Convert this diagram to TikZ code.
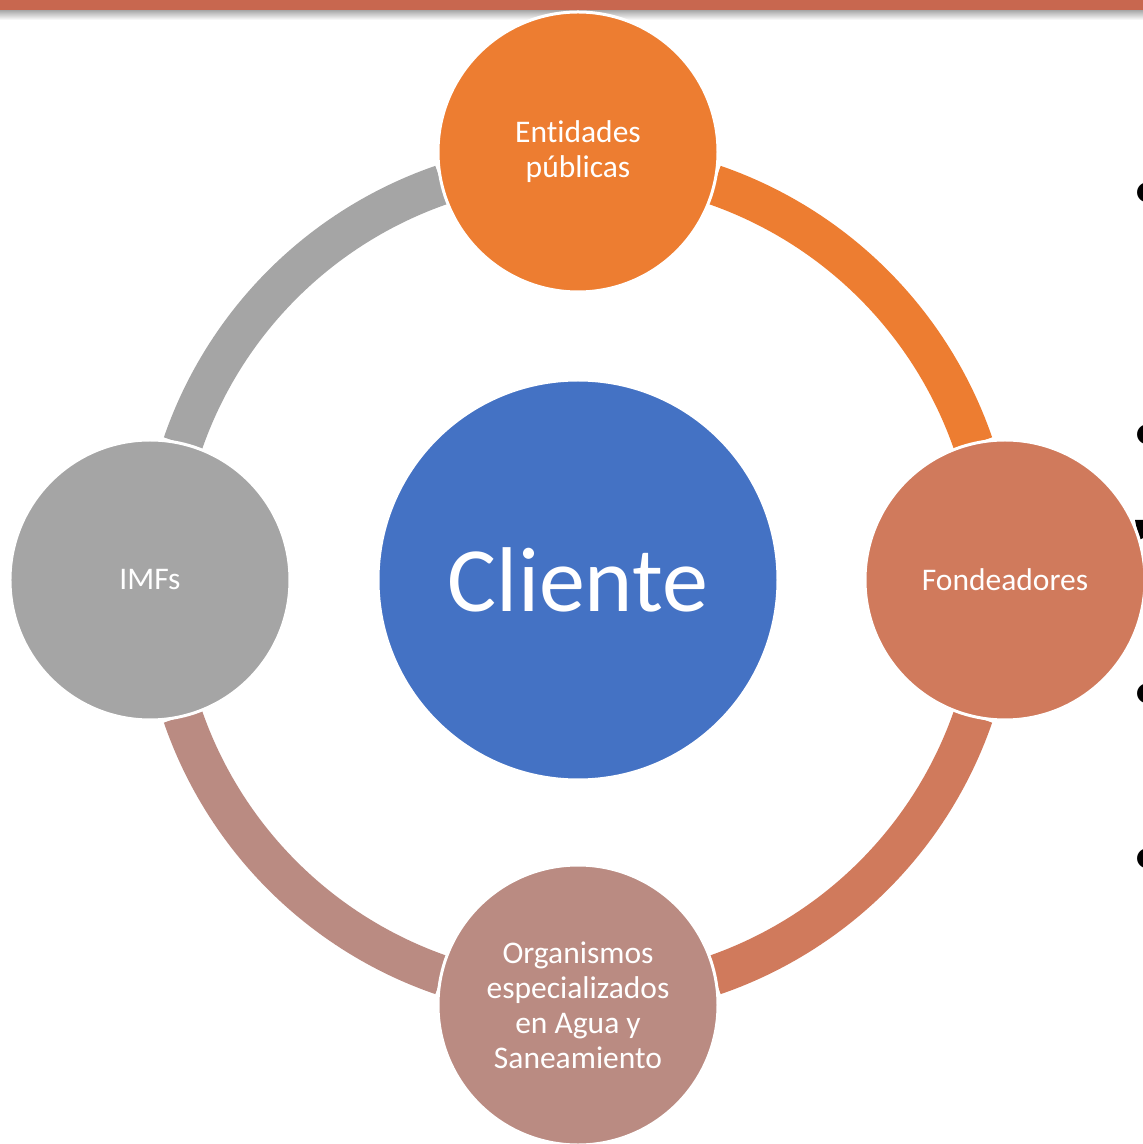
\documentclass[tikz,border=0pt]{standalone}
\usepackage{fontspec}
\setmainfont{Carlito}[Ligatures=NoCommon]
\usepackage{xcolor}
\usetikzlibrary{positioning,calc,backgrounds}

\definecolor{orangeC}{HTML}{ED7D31}
\definecolor{fondC}{HTML}{D07A5C}
\definecolor{organC}{HTML}{BA8B82}
\definecolor{grayC}{HTML}{A5A5A5}
\definecolor{blueC}{HTML}{4472C4}
\definecolor{barC}{HTML}{C8674F}

\begin{document}
\begin{tikzpicture}[x=0.5pt,y=0.5pt,
		actor/.style={circle,draw=white,line width=1.5pt,inner sep=0pt,outer sep=0pt,minimum size=140pt,
			text=white,align=center,font=\fontsize{15.75pt}{17.5pt}\selectfont},
		ringarc/.style={line width=20pt,line cap=butt},
		bullet/.style={anchor=west,inner sep=0pt,font=\fontsize{28pt}{28pt}\selectfont}]
		\useasboundingbox (-578,-564) rectangle (565,580);
		% title bar of the slide
		\shade [top color=black!35,bottom color=white] (-578,570) rectangle (565,560);
		\fill [barC] (-578,580) rectangle (565,570);
		% bullets of the cut off text
		\node[bullet] (b1) at (555,384) {•};
		\node[bullet] (b2) at (555,142) {•};
		\node[bullet] (b3) at (555,-117) {•};
		\node[bullet] (b4) at (555,-282) {•};
		\fill [black] (557,60) -- (565,60) -- (565,42) -- (561,40) -- cycle;
		% nodes
		\node[actor,fill=blueC,minimum size=200pt,font=\fontsize{46pt}{46pt}\selectfont] (cli) at (0,0) {Cliente};
		\node[actor,fill=orangeC] (ent) at (0,428) {Entidades\\públicas};
		\node[actor,fill=fondC] (fon) at (427,0) {Fondeadores};
		\node[actor,fill=organC] (org) at (0,-425) {Organismos\\especializados\\en Agua y\\Saneamiento};
		\node[actor,fill=grayC] (imf) at (-428,0) {IMFs};
		% ring between them
		\begin{scope}[on background layer]
			\draw [ringarc,orangeC] ($(cli)+(71:418)$) arc[start angle=71,end angle=19,radius=418];
			\draw [ringarc,fondC] ($(cli)+(-19:418)$) arc[start angle=-19,end angle=-71,radius=418];
			\draw [ringarc,organC] ($(cli)+(-109:418)$) arc[start angle=-109,end angle=-161,radius=418];
			\draw [ringarc,grayC] ($(cli)+(161:418)$) arc[start angle=161,end angle=109,radius=418];
		\end{scope}
\end{tikzpicture}
\end{document}
